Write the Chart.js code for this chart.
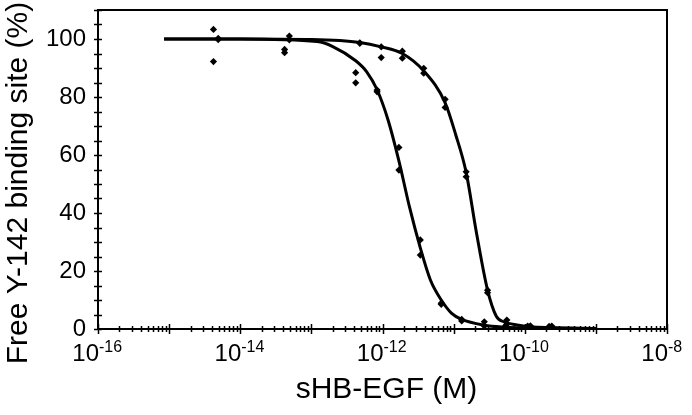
<!DOCTYPE html>
<html>
<head>
<meta charset="utf-8">
<script src="https://cdn.jsdelivr.net/npm/chart.js@4.4.1/dist/chart.umd.min.js"></script>
<style>
  html, body { margin: 0; padding: 0; background: #fff; }
  #wrap { width: 692px; height: 415px; position: relative; }
</style>
</head>
<body>
<div id="wrap"><canvas id="chart"></canvas></div>
<script>
// axis ranges and labelled decades
const xMin = 1e-16, xMax = 1e-8;
const yMin = 0, yMax = 110;
const decadeExps = [-16, -14, -12, -10, -8];
const xTitle = 'sHB-EGF (M)';
const yTitle = 'Free Y-142 binding site (%)';

// measured points, left curve (two replicates)
const concA  = [4.2e-15, 4.2e-14, 4.2e-13, 8.4e-13, 1.7e-12, 3.4e-12, 6.7e-12, 1.3e-11, 2.7e-11, 5.4e-11, 1.1e-10, 2.2e-10];
const freeA1 = [103.3, 96.4, 88.4, 82.4, 62.6, 30.7, 8.9, 3.3, 2.5, 1.2, 1.0, 0.9];
const freeA2 = [92.2, 95.3, 84.9, 81.8, 54.8, 25.5, 8.5, 2.8, 1.0, 0.6, 0.5, 0.4];

// measured points, right curve (two replicates)
const concB  = [4.9e-15, 4.9e-14, 4.8e-13, 9.6e-13, 1.9e-12, 3.8e-12, 7.6e-12, 1.5e-11, 3.0e-11, 5.6e-11, 1.2e-10, 2.4e-10];
const freeB1 = [100.2, 101.0, 98.7, 97.3, 95.8, 89.9, 79.2, 54.2, 13.4, 3.1, 1.1, 1.0];
const freeB2 = [99.8, 99.7, 98.5, 93.6, 93.4, 88.2, 76.4, 52.5, 12.5, 1.6, 0.8, 0.6];

// fitted curves
const fitAX = [8.5e-16, 1e-14, 1.2e-13, 2e-13, 4.2e-13, 6e-13, 8.4e-13, 1.2e-12, 1.7e-12, 2.4e-12, 3.4e-12, 4.7e-12, 6.7e-12, 9.3e-12, 1.3e-11, 2.7e-11, 5.4e-11, 1e-10, 1e-9];
const fitAY = [100, 100, 99.1, 97.4, 92.5, 88.7, 82.5, 72, 58, 42, 28, 17, 10, 5.5, 3.3, 1.3, 0.6, 0.3, 0.1];
const fitBX = [8.5e-16, 1e-14, 1e-13, 4.8e-13, 9.6e-13, 1.9e-12, 3.8e-12, 7.6e-12, 1.07e-11, 1.5e-11, 2.1e-11, 3.0e-11, 4.0e-11, 5.1e-11, 7.8e-11, 1.2e-10, 2.4e-10, 1e-9];
const fitBY = [100, 100, 99.8, 98.8, 97.3, 95, 89, 78, 67, 54, 33, 13.4, 4.3, 2.5, 1.4, 0.8, 0.5, 0.2];

const FONT = '"Liberation Sans", Arial, sans-serif';

const pts = (xs, ys) => xs.map((v, i) => ({ x: v, y: ys[i] }));

// frame, crossing tick marks, 10^n labels and axis titles
const axisDecor = {
  id: 'axisDecor',
  afterDraw(chart) {
    const { ctx, chartArea: a, scales: { x, y } } = chart;
    ctx.save();
    ctx.strokeStyle = '#000';
    ctx.lineWidth = 2;
    ctx.strokeRect(a.left, a.top, a.right - a.left, a.bottom - a.top);

    ctx.lineWidth = 1.5;
    ctx.beginPath();
    for (let e = -16; e <= -8; e++) {
      for (let m = 1; m <= 9; m++) {
        if (e === -8 && m > 1) break;
        const px = Math.round(x.getPixelForValue(m * Math.pow(10, e))) + 0.5;
        const h = m === 1 ? 5 : 3;
        ctx.moveTo(px, a.bottom - h);
        ctx.lineTo(px, a.bottom + h);
      }
    }
    for (let v = yMin; v <= yMax; v += 5) {
      const py = Math.round(y.getPixelForValue(v)) + 0.5;
      ctx.moveTo(a.left - 4, py);
      ctx.lineTo(a.left + 4, py);
    }
    ctx.stroke();

    ctx.fillStyle = '#000';
    ctx.textBaseline = 'alphabetic';
    decadeExps.forEach(e => {
      const px = x.getPixelForValue(Math.pow(10, e));
      ctx.font = '24px ' + FONT;
      ctx.textAlign = 'right';
      ctx.fillText('10', px + 1, 361);
      ctx.font = '16px ' + FONT;
      ctx.textAlign = 'left';
      ctx.fillText('-' + Math.abs(e), px + 1, 352);
    });

    ctx.font = '30px ' + FONT;
    ctx.textAlign = 'center';
    ctx.textBaseline = 'middle';
    ctx.fillText(xTitle, (a.left + a.right) / 2 + 4, 390);

    ctx.translate(19, 183);
    ctx.rotate(-Math.PI / 2);
    ctx.fillText(yTitle, 0, 0);
    ctx.restore();
  }
};

new Chart(document.getElementById('chart'), {
  type: 'scatter',
  data: {
    datasets: [
      {
        label: 'points',
        data: pts(concA, freeA1).concat(pts(concA, freeA2), pts(concB, freeB1), pts(concB, freeB2)),
        pointStyle: 'rectRot',
        pointRadius: 3.6,
        backgroundColor: '#000',
        borderColor: '#000',
        borderWidth: 0,
        showLine: false
      },
      {
        label: 'fit A',
        data: pts(fitAX, fitAY),
        showLine: true,
        pointRadius: 0,
        borderColor: '#000',
        borderWidth: 3,
        cubicInterpolationMode: 'monotone'
      },
      {
        label: 'fit B',
        data: pts(fitBX, fitBY),
        showLine: true,
        pointRadius: 0,
        borderColor: '#000',
        borderWidth: 3,
        cubicInterpolationMode: 'monotone'
      }
    ]
  },
  options: {
    responsive: true,
    maintainAspectRatio: false,
    animation: false,
    layout: { padding: { top: 10, right: 25, left: 0, bottom: 0 } },
    plugins: { legend: { display: false }, tooltip: { enabled: false } },
    scales: {
      x: {
        type: 'logarithmic',
        min: xMin,
        max: xMax,
        grid: { display: false, drawTicks: false },
        border: { display: false },
        ticks: { display: false },
        afterFit(scale) {
          scale.height = 86;
          scale.paddingLeft = 0;
          scale.paddingRight = 0;
        }
      },
      y: {
        min: yMin,
        max: yMax,
        grid: { display: false, drawTicks: false },
        border: { display: false },
        ticks: {
          stepSize: 20,
          includeBounds: false,
          color: '#000',
          padding: 12,
          font: { family: FONT, size: 24 }
        },
        afterFit(scale) {
          scale.width = 98;
          scale.paddingTop = 0;
          scale.paddingBottom = 0;
        }
      }
    }
  },
  plugins: [axisDecor]
});
</script>
</body>
</html>
